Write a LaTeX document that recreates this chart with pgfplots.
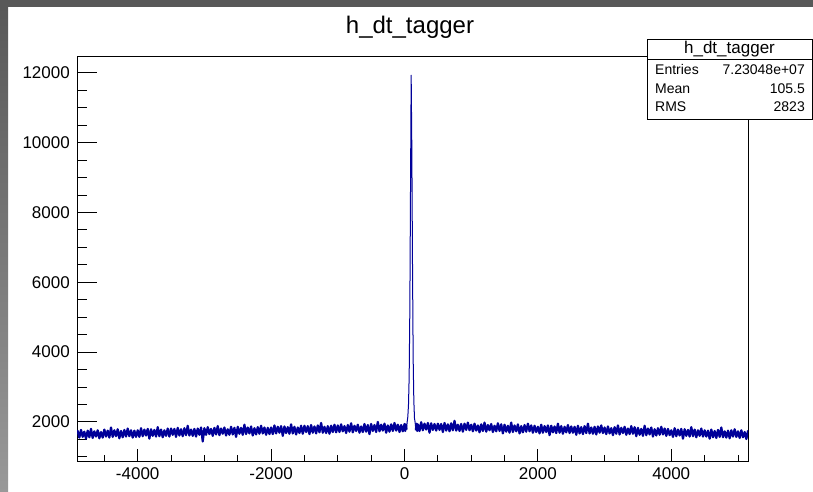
\documentclass[border=0pt]{standalone}
\usepackage{fontspec}
\setmainfont{Liberation Sans}
\usepackage{pgfplots}
\pgfplotsset{compat=1.18}
\definecolor{rootblue}{RGB}{0,0,153}
\definecolor{rootgray}{RGB}{88,88,88}

\begin{document}
\begin{tikzpicture}[x=1pt,y=1pt]
\useasboundingbox (0,0) rectangle (813,492);
\fill[white] (0,0) rectangle (813,492);
\fill[rootgray] (0,485) rectangle (813,492);
\shade[top color=rootgray, bottom color=black!40] (0,0) rectangle (8,485);

\begin{axis}[
  at={(77pt,31pt)}, anchor=south west,
  width=671pt, height=405pt, scale only axis,
  xmin=-4910, xmax=5150, ymin=880, ymax=12480,
  xtick={-4000,-2000,0,2000,4000},
  ytick={2000,4000,6000,8000,10000,12000},
  minor xtick={-4500,-3500,-3000,-2500,-1500,-1000,-500,500,1000,1500,2500,3000,3500,4500,5000},
  minor ytick={1000,1500,2500,3000,3500,4500,5000,5500,6500,7000,7500,8500,9000,9500,10500,11000,11500},
  xtick pos=left, ytick pos=left,
  tick align=inside,
  major tick length=20pt, minor tick length=10pt,
  xtick style={/pgfplots/major tick length=12pt, /pgfplots/minor tick length=6pt},
  tick style={black, line width=0.8pt},
  axis line style={black, line width=0.8pt},
  scaled ticks=false,
  /pgf/number format/assume math mode=true,
  /pgf/number format/fixed,
  /pgf/number format/1000 sep={},
  ticklabel style={font=\fontsize{17}{17}\selectfont, inner sep=0pt},
  yticklabel style={xshift=-7pt},
  xticklabel style={yshift=-6pt},
  clip=true,
]
% background, left of the peak
\addplot[sharp plot, rootblue, line width=2.2pt, line join=round] coordinates {
(-4925,1700) (-4900,1740) (-4875,1550) (-4850,1770) (-4825,1570) (-4800,1720) (-4775,1520) (-4750,1750) (-4725,1560) (-4700,1800)
(-4675,1540) (-4650,1730) (-4625,1580) (-4600,1760) (-4575,1530) (-4550,1710) (-4525,1550)
(-4500,1780) (-4475,1580) (-4450,1750) (-4425,1550) (-4400,1840) (-4375,1570) (-4350,1760) (-4325,1590) (-4300,1790) (-4275,1530)
(-4250,1740) (-4225,1560) (-4200,1770) (-4175,1580) (-4150,1810) (-4125,1590) (-4100,1760) (-4075,1550) (-4050,1750) (-4025,1570)
(-4000,1760) (-3975,1570) (-3950,1820) (-3925,1590) (-3900,1780) (-3875,1610) (-3850,1800) (-3825,1520) (-3800,1790) (-3775,1600)
(-3750,1770) (-3725,1580) (-3700,1850) (-3675,1590) (-3650,1780) (-3625,1560) (-3600,1760) (-3575,1600) (-3550,1810) (-3525,1580)
(-3500,1810) (-3475,1630) (-3450,1800) (-3425,1570) (-3400,1830) (-3375,1610) (-3350,1790) (-3325,1590) (-3300,1820) (-3275,1620)
(-3250,1890) (-3225,1610) (-3200,1780) (-3175,1600) (-3150,1800) (-3125,1580) (-3100,1810) (-3075,1630) (-3050,1840) (-3025,1440)
(-3000,1820) (-2975,1630) (-2950,1850) (-2925,1650) (-2900,1800) (-2875,1600) (-2850,1830) (-2825,1640) (-2800,1880) (-2775,1620)
(-2750,1810) (-2725,1660) (-2700,1840) (-2675,1610) (-2650,1790) (-2625,1630) (-2600,1860) (-2575,1640) (-2550,1830) (-2525,1570)
(-2500,1860) (-2475,1660) (-2450,1830) (-2425,1630) (-2400,1920) (-2375,1650) (-2350,1840) (-2325,1670) (-2300,1870) (-2275,1610)
(-2250,1820) (-2225,1640) (-2200,1850) (-2175,1660) (-2150,1890) (-2125,1670) (-2100,1840) (-2075,1630) (-2050,1830) (-2025,1650)
(-2000,1840) (-1975,1650) (-1950,1900) (-1925,1670) (-1900,1860) (-1875,1690) (-1850,1880) (-1825,1600) (-1800,1870) (-1775,1680)
(-1750,1850) (-1725,1660) (-1700,1930) (-1675,1670) (-1650,1860) (-1625,1640) (-1600,1840) (-1575,1680) (-1550,1890) (-1525,1660)
(-1500,1890) (-1475,1710) (-1450,1880) (-1425,1650) (-1400,1910) (-1375,1690) (-1350,1870) (-1325,1670) (-1300,1900) (-1275,1700)
(-1250,1970) (-1225,1690) (-1200,1860) (-1175,1680) (-1150,1880) (-1125,1660) (-1100,1890) (-1075,1710) (-1050,1920) (-1025,1700)
(-1000,1900) (-975,1710) (-950,1930) (-925,1730) (-900,1880) (-875,1680) (-850,1910) (-825,1720) (-800,1960) (-775,1700)
(-750,1890) (-725,1740) (-700,1920) (-675,1690) (-650,1870) (-625,1710) (-600,1940) (-575,1720) (-550,1910) (-525,1650)
(-500,1940) (-475,1740) (-450,1910) (-425,1710) (-400,2000) (-375,1730) (-350,1920) (-325,1750) (-300,1950) (-275,1690)
(-250,1900) (-225,1720) (-200,1930) (-175,1740) (-150,1970) (-125,1750) (-100,1920) (-75,1710) (-50,1910) (-25,1730)
(0,1940) (10,1740) (20,1930) (30,1780)
};
% the peak
\addplot[sharp plot, rootblue, line width=1pt, line join=round] coordinates {
(30,1780) (40,2000) (50,2150) (60,2500) (70,3300) (80,5200) (90,8600)
(100,11930) (110,9800) (120,6500) (130,3800) (140,2600) (150,2100) (160,1980) (170,1760)
};
% background, right of the peak
\addplot[sharp plot, rootblue, line width=2.2pt, line join=round] coordinates {
(170,1760) (180,1950) (190,1740)
(200,1930) (225,1740) (250,1990) (275,1760) (300,1950) (325,1780) (350,1970) (375,1690) (400,1960) (425,1770)
(450,1940) (475,1750)
(500,1950) (525,1770) (550,1940) (575,1710) (600,1970) (625,1750) (650,1930) (675,1730) (700,1960) (725,1760)
(750,2030) (775,1750) (800,1920) (825,1740) (850,1940) (875,1720) (900,1950) (925,1770) (950,1980) (975,1760)
(1000,1920) (1025,1730) (1050,1950) (1075,1750) (1100,1900) (1125,1700) (1150,1930) (1175,1740) (1200,1980) (1225,1720)
(1250,1910) (1275,1760) (1300,1940) (1325,1710) (1350,1890) (1375,1730) (1400,1960) (1425,1740) (1450,1930) (1475,1670)
(1500,1920) (1525,1720) (1550,1890) (1575,1690) (1600,1980) (1625,1710) (1650,1900) (1675,1730) (1700,1930) (1725,1670)
(1750,1880) (1775,1700) (1800,1910) (1825,1720) (1850,1950) (1875,1730) (1900,1900) (1925,1690) (1950,1890) (1975,1710)
(2000,1860) (2025,1670) (2050,1920) (2075,1690) (2100,1880) (2125,1710) (2150,1900) (2175,1620) (2200,1890) (2225,1700)
(2250,1870) (2275,1680) (2300,1950) (2325,1690) (2350,1880) (2375,1660) (2400,1860) (2425,1700) (2450,1910) (2475,1680)
(2500,1870) (2525,1690) (2550,1860) (2575,1630) (2600,1890) (2625,1670) (2650,1850) (2675,1650) (2700,1880) (2725,1680)
(2750,1950) (2775,1670) (2800,1840) (2825,1660) (2850,1860) (2875,1640) (2900,1870) (2925,1690) (2950,1900) (2975,1680)
(3000,1840) (3025,1650) (3050,1870) (3075,1670) (3100,1820) (3125,1620) (3150,1850) (3175,1660) (3200,1900) (3225,1640)
(3250,1830) (3275,1680) (3300,1860) (3325,1630) (3350,1810) (3375,1650) (3400,1880) (3425,1660) (3450,1850) (3475,1590)
(3500,1830) (3525,1630) (3550,1800) (3575,1600) (3600,1890) (3625,1620) (3650,1810) (3675,1640) (3700,1840) (3725,1580)
(3750,1790) (3775,1610) (3800,1820) (3825,1630) (3850,1860) (3875,1640) (3900,1810) (3925,1600) (3950,1800) (3975,1620)
(4000,1760) (4025,1570) (4050,1820) (4075,1590) (4100,1780) (4125,1610) (4150,1800) (4175,1520) (4200,1790) (4225,1600)
(4250,1770) (4275,1580) (4300,1850) (4325,1590) (4350,1780) (4375,1560) (4400,1760) (4425,1600) (4450,1810) (4475,1580)
(4500,1760) (4525,1580) (4550,1750) (4575,1520) (4600,1780) (4625,1560) (4650,1740) (4675,1540) (4700,1770) (4725,1570)
(4750,1840) (4775,1560) (4800,1730) (4825,1550) (4850,1750) (4875,1530) (4900,1760) (4925,1580) (4950,1790) (4975,1570)
(5000,1730) (5025,1540) (5050,1760) (5075,1560) (5100,1710) (5125,1510) (5150,1740) (5175,1550)
};
\end{axis}

% title
\node[anchor=base, inner sep=0pt, font=\fontsize{24}{24}\selectfont] at (410,458) {h\_dt\_tagger};

% stats box
\filldraw[fill=white, draw=black, line width=0.8pt] (647,373) rectangle (812,453);
\draw[black, line width=0.8pt] (647,433) -- (812,433);
\node[anchor=base, inner sep=0pt, font=\fontsize{17}{17}\selectfont] at (729.5,438) {h\_dt\_tagger};
\begin{scope}[every node/.style={inner sep=0pt, font=\fontsize{14}{14}\selectfont}]
\node[anchor=base west] at (655,417) {Entries};
\node[anchor=base east] at (805,417) {7.23048e+07};
\node[anchor=base west] at (655,398.7) {Mean};
\node[anchor=base east] at (805,398.7) {105.5};
\node[anchor=base west] at (655,380.3) {RMS};
\node[anchor=base east] at (805,380.3) {2823};
\end{scope}
\end{tikzpicture}
\end{document}
